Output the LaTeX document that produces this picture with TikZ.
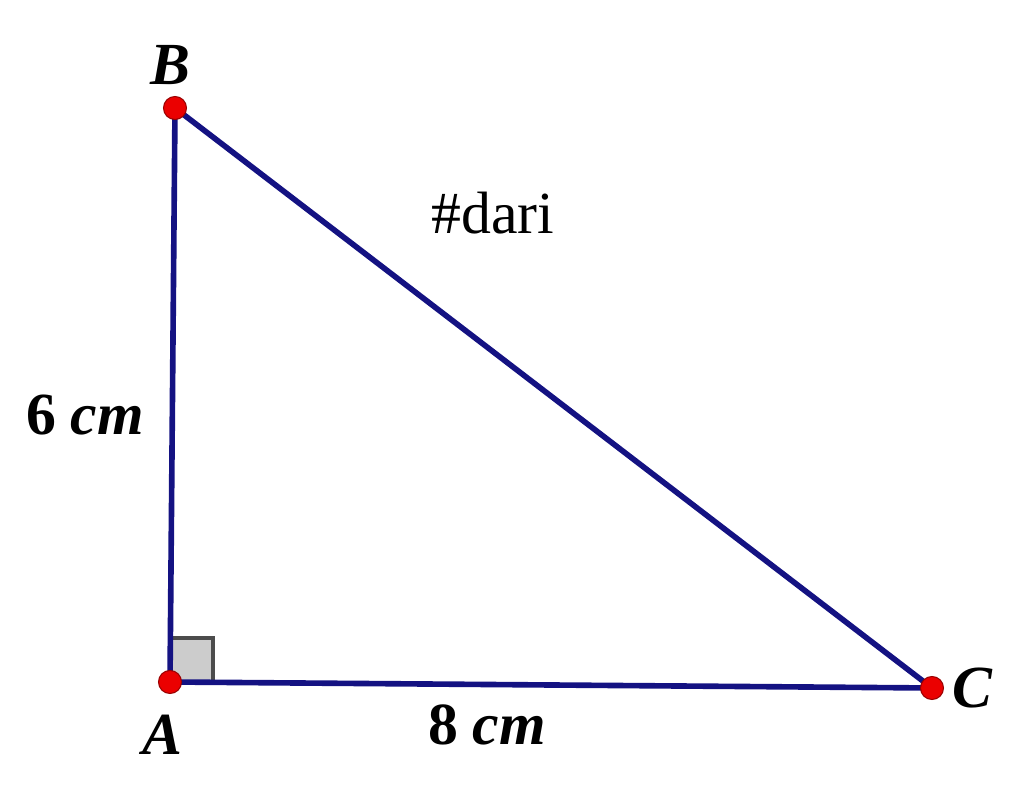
\documentclass[tikz,border=0pt]{standalone}
\usepackage{fontspec}
\setmainfont{Liberation Serif}
\usetikzlibrary{positioning}
\definecolor{sideblue}{RGB}{20,18,130}
\definecolor{dotred}{RGB}{235,0,0}

\begin{document}
\begin{tikzpicture}[x=1cm, y=1cm,
    side/.style={draw=sideblue, line width=1.6pt},
    dot/.style={circle, fill=dotred, draw=red!60!black, line width=0.3pt, inner sep=0pt, minimum size=0.23cm},
    vlabel/.style={font=\fontsize{17}{20}\selectfont\bfseries\itshape},
    len/.style={font=\fontsize{17}{20}\selectfont\bfseries}]

    \useasboundingbox (0,0) rectangle (10.24,-7.89);

    % vertices
    \coordinate (A) at (1.70,-6.82);
    \coordinate (B) at (1.75,-1.08);
    \coordinate (C) at (9.32,-6.88);

    % right angle mark
    \draw[fill=black!20, draw=black!70, line width=1pt] (A) rectangle ++(0.43,0.44);

    \draw[side] (A) -- (B) -- (C) -- cycle;

    \node[dot] (dotA) at (A) {};
    \node[dot] (dotB) at (B) {};
    \node[dot] (dotC) at (C) {};

    \node[vlabel] (labA) at (1.62,-7.35) {A};
    \node[vlabel] (labB) at (1.70,-0.65) {B};
    \node[vlabel] (labC) at (9.72,-6.88) {C};

    \node[len] (ab) at (0.85,-4.15) {6 \textit{cm}};
    \node[len] (ac) at (4.87,-7.25) {8 \textit{cm}};
    \node[font=\fontsize{17}{20}\selectfont] (tag) at (4.93,-2.13) {\#dari};

\end{tikzpicture}
\end{document}
